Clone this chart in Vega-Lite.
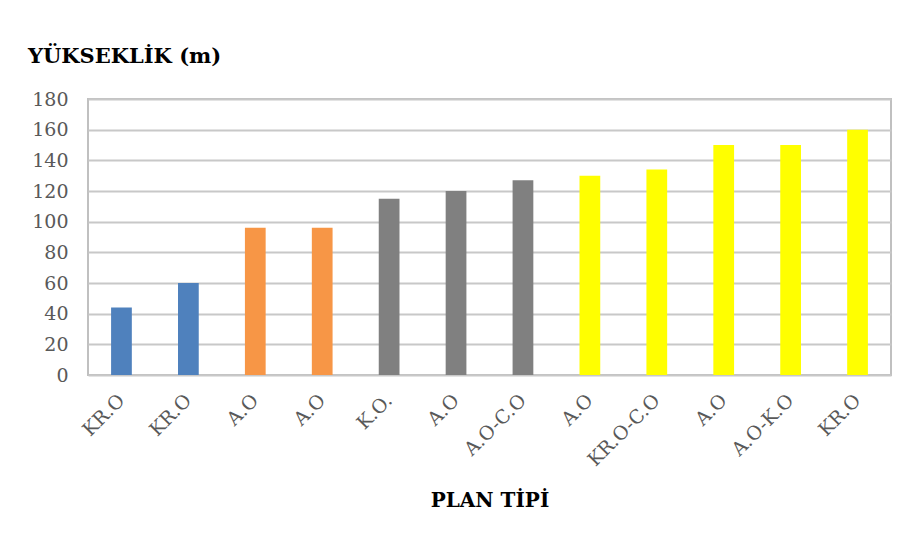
{
  "$schema": "https://vega.github.io/schema/vega-lite/v6.json",
  "autosize": {"type": "none"},
  "width": 803,
  "height": 276,
  "padding": {"left": 88, "top": 99, "right": 18, "bottom": 176},
  "background": "white",
  "title": {
    "text": "YÜKSEKLİK (m)",
    "anchor": "start",
    "frame": "group",
    "dx": -60,
    "offset": 23,
    "font": "DejaVu Serif",
    "fontSize": 21,
    "fontWeight": "bold",
    "color": "#000000"
  },
  "data": {
    "values": [
      {"i": 1, "plan": "KR.O", "h": 44, "g": "a"},
      {"i": 2, "plan": "KR.O", "h": 60, "g": "a"},
      {"i": 3, "plan": "A.O", "h": 96, "g": "b"},
      {"i": 4, "plan": "A.O", "h": 96, "g": "b"},
      {"i": 5, "plan": "K.O.", "h": 115, "g": "c"},
      {"i": 6, "plan": "A.O", "h": 120, "g": "c"},
      {"i": 7, "plan": "A.O-C.O", "h": 127, "g": "c"},
      {"i": 8, "plan": "A.O", "h": 130, "g": "d"},
      {"i": 9, "plan": "KR.O-C.O", "h": 134, "g": "d"},
      {"i": 10, "plan": "A.O", "h": 150, "g": "d"},
      {"i": 11, "plan": "A.O-K.O", "h": 150, "g": "d"},
      {"i": 12, "plan": "KR.O", "h": 160, "g": "d"}
    ]
  },
  "mark": {"type": "bar"},
  "encoding": {
    "x": {
      "field": "i",
      "type": "ordinal",
      "scale": {"paddingInner": 0.69, "paddingOuter": 0.345},
      "axis": {
        "title": "PLAN TİPİ",
        "labelExpr": "['KR.O','KR.O','A.O','A.O','K.O.','A.O','A.O-C.O','A.O','KR.O-C.O','A.O','A.O-K.O','KR.O'][datum.value-1]",
        "labelAngle": -45,
        "labelAlign": "right",
        "labelBaseline": "middle",
        "labelPadding": 22,
        "ticks": false,
        "domain": false,
        "labelFont": "DejaVu Serif",
        "labelFontSize": 19,
        "labelColor": "#595959",
        "titleFont": "DejaVu Serif",
        "titleFontSize": 20,
        "titleFontWeight": "bold",
        "titleColor": "#000000",
        "titlePadding": 21
      }
    },
    "y": {
      "field": "h",
      "type": "quantitative",
      "scale": {"domain": [0, 180]},
      "axis": {
        "title": null,
        "values": [0, 20, 40, 60, 80, 100, 120, 140, 160, 180],
        "ticks": false,
        "domain": false,
        "grid": true,
        "gridColor": "#c8c8c8",
        "gridWidth": 2,
        "labelPadding": 20,
        "labelFont": "DejaVu Serif",
        "labelFontSize": 19,
        "labelColor": "#595959"
      }
    },
    "color": {
      "field": "g",
      "type": "nominal",
      "scale": {"domain": ["a", "b", "c", "d"], "range": ["#4f81bd", "#f79646", "#808080", "#ffff00"]},
      "legend": null
    }
  },
  "config": {
    "view": {"stroke": "#c0c0c0", "strokeWidth": 2}
  }
}
